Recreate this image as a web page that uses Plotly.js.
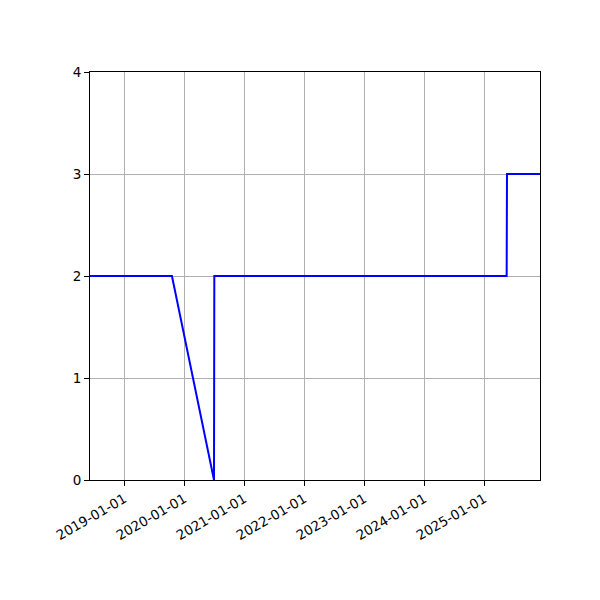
<!DOCTYPE html>
<html>
<head>
<meta charset="utf-8">
<script src="https://cdn.plot.ly/plotly-2.35.2.min.js"></script>
<style>html,body{margin:0;padding:0;background:#fff;}#chart{width:600px;height:600px;}</style>
</head>
<body>
<div id="chart"></div>
<script>
const dates = ['2018-06-06', '2019-10-18', '2020-06-30', '2020-07-02', '2025-05-17', '2025-05-19', '2025-12-06'];
const values = [2, 2, 0, 2, 2, 3, 3];
const tickDates = ['2019-01-01', '2020-01-01', '2021-01-01', '2022-01-01', '2023-01-01', '2024-01-01', '2025-01-01'];
const yTicks = [0, 1, 2, 3, 4];

const trace = {
  x: dates, y: values, type: 'scatter', mode: 'lines',
  line: {color: '#0000ff', width: 2}, showlegend: false
};
const layout = {
  width: 600, height: 600,
  margin: {l: 90, r: 60, t: 72, b: 120},
  paper_bgcolor: '#fff', plot_bgcolor: '#fff',
  font: {family: 'DejaVu Sans', size: 13.5, color: '#000'},
  xaxis: {
    type: 'date', range: [dates[0], dates[dates.length - 1]],
    tickmode: 'array', tickvals: tickDates, ticktext: tickDates,
    tickangle: -30, showgrid: true, gridcolor: '#b0b0b0', gridwidth: 1,
    showline: true, linecolor: '#000', linewidth: 1, mirror: true,
    ticks: 'outside', ticklen: 5, tickcolor: '#000', zeroline: false
  },
  yaxis: {
    range: [0, 4], tickmode: 'array', tickvals: yTicks,
    showgrid: true, gridcolor: '#b0b0b0', gridwidth: 1,
    showline: true, linecolor: '#000', linewidth: 1, mirror: true,
    ticks: 'outside', ticklen: 5, tickcolor: '#000', zeroline: false
  }
};
Plotly.newPlot('chart', [trace], layout, {staticPlot: true, displayModeBar: false});
</script>
</body>
</html>
